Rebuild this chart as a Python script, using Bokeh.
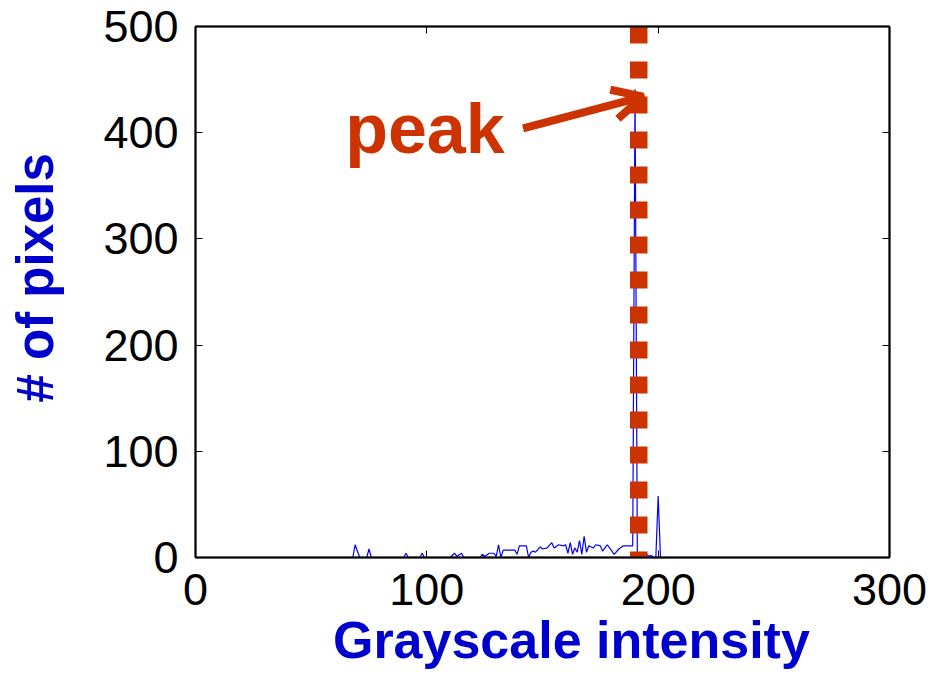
from bokeh.plotting import figure
from bokeh.models import Range1d, LinearAxis, FixedTicker, Label, Arrow, OpenHead, CustomJSTickFormatter
from bokeh.embed import file_html
from bokeh.resources import INLINE

# ---- data ----
intensity = [0, 68, 69, 71, 74, 75, 76, 90, 91, 92, 97, 98, 99, 110, 112, 113, 115, 116,
             123, 124, 125, 127, 129, 130, 131, 132, 133, 138, 139, 140, 143, 144, 145, 146,
             147, 149, 150, 152, 154, 155, 157, 159, 160, 161, 162, 163, 164, 165, 166, 167,
             168, 169, 170, 172, 173, 175, 176, 177, 178, 180, 181, 183, 185, 189, 190, 191,
             192, 193, 194, 195, 196, 197, 198, 199, 200, 201, 255]
counts = [0, 0, 12, 0, 0, 8, 0, 0, 4, 0, 0, 4, 0, 0, 4, 1, 4, 0,
          0, 3, 1, 4, 4, 1, 12, 0, 7, 7, 3, 11, 11, 0, 5, 6,
          5, 10, 8, 9, 14, 9, 12, 11, 12, 4, 14, 3, 9, 5, 16, 3,
          20, 5, 11, 9, 12, 11, 6, 9, 12, 6, 3, 8, 11, 11, 441, 3,
          1, 3, 1, 3, 1, 2, 0, 0, 58, 0, 0]
x_ticks = [0, 100, 200, 300]
y_ticks = [0, 100, 200, 300, 400, 500]
peak_x = 191.6
peak_text = "peak"
arrow_tail = (141.6, 404)
arrow_tip = (193.5, 434)
peak_text_pos = (64.7, 403.5)
x_label = "Grayscale intensity"
y_label = "# of pixels"

RED = "#CC3300"
BLUE = "#0000CC"
FONT = "Liberation Sans"
NB = "\u00a0"

p = figure(width=940, height=675, x_range=Range1d(0, 300), y_range=Range1d(0, 500),
           output_backend="svg", toolbar_location=None,
           min_border_left=195, min_border_right=51, min_border_top=26, min_border_bottom=118)
p.grid.visible = False
p.outline_line_color = "black"
p.outline_line_width = 1.5
p.background_fill_color = "white"
p.border_fill_color = "white"

p.add_layout(LinearAxis(), "right")
p.add_layout(LinearAxis(), "above")

for ax in p.xaxis:
    ax.ticker = FixedTicker(ticks=x_ticks)
for ax in p.yaxis:
    ax.ticker = FixedTicker(ticks=y_ticks)
for ax in p.axis:
    ax.major_tick_in = 7
    ax.major_tick_out = 0
    ax.minor_tick_in = 0
    ax.minor_tick_out = 0
    ax.axis_line_color = "black"
    ax.axis_line_width = 2
    ax.major_tick_line_color = "black"
    ax.major_tick_line_width = 1
    ax.major_label_text_font = FONT
    ax.major_label_text_font_size = "45px"
    ax.major_label_text_color = "black"

xa = p.below[0]
ya = p.left[0]
xa.major_label_standoff = 16
ya.major_label_standoff = 17

xa.axis_label = NB * 4 + x_label
xa.axis_label_standoff = 3
ya.axis_label = NB * 2 + y_label
ya.axis_label_standoff = 36
xa.axis_label_text_font_size = "52px"
ya.axis_label_text_font_size = "51px"
for ax in (xa, ya):
    ax.axis_label_text_font = FONT
    ax.axis_label_text_font_style = "bold"
    ax.axis_label_text_color = BLUE

for ax in (p.right[0], p.above[0]):
    ax.formatter = CustomJSTickFormatter(code="return ''")
    ax.major_label_text_font_size = "1px"
    ax.major_label_standoff = 0

p.line(intensity, counts, line_color="#0000FF", line_width=1.2)
p.line([peak_x, peak_x], [500, 0], line_color=RED, line_width=17.5,
       line_dash="17 18", line_cap="butt")

p.add_layout(Arrow(end=OpenHead(line_color=RED, line_width=8, size=30),
                   x_start=arrow_tail[0], y_start=arrow_tail[1],
                   x_end=arrow_tip[0], y_end=arrow_tip[1],
                   line_color=RED, line_width=8))
p.add_layout(Label(x=peak_text_pos[0], y=peak_text_pos[1], text=peak_text,
                   text_font=FONT, text_font_size="70px", text_font_style="bold",
                   text_color=RED, text_baseline="alphabetic", text_align="left"))

open("out.html", "w").write(file_html(p, INLINE))
